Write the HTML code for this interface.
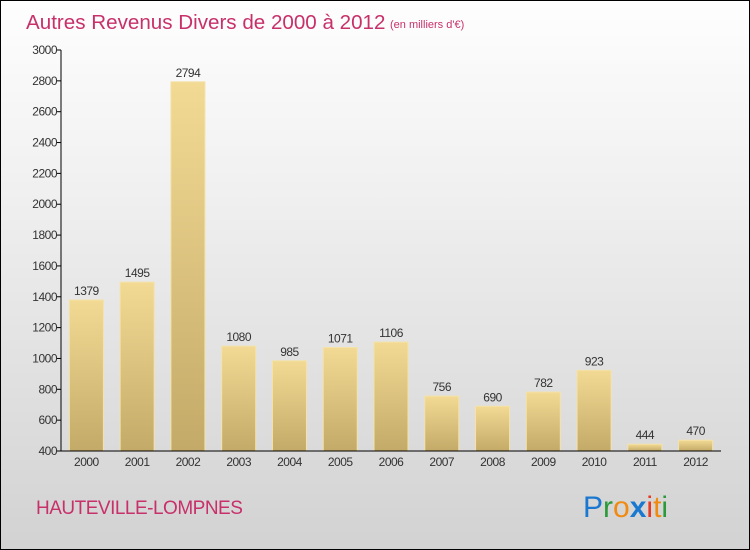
<!DOCTYPE html>
<html><head><meta charset="utf-8"><style>
body{margin:0}
#c{position:relative;width:750px;height:550px;box-sizing:border-box;border:1px solid #000;background:linear-gradient(#fefefe,#f2f2f2 30%,#d2d2d2);font-family:"Liberation Sans",sans-serif;overflow:hidden}
</style></head><body>
<div id="c">
<svg width="750" height="550" style="position:absolute;left:-1px;top:-1px" id="svg">
<defs><linearGradient id="bg" x1="0" y1="0" x2="0" y2="1"><stop offset="0" stop-color="#f2da94"/><stop offset="1" stop-color="#c4aa68"/></linearGradient></defs>
<text x="26" y="29" font-size="20.6" fill="#c8306a">Autres Revenus Divers de 2000 à 2012</text>
<text x="390" y="28" font-size="11" fill="#c8306a">(en milliers d'€)</text>
<text x="36" y="514" font-size="19" fill="#c8306a" letter-spacing="-0.5">HAUTEVILLE-LOMPNES</text>
<g id="plot"></g>
<text x="583" y="517" font-size="30"><tspan fill="#1a78d0">P</tspan><tspan fill="#2a9a3a">r</tspan><tspan fill="#f08a10">o</tspan><tspan fill="#1a78d0" font-weight="bold">x</tspan><tspan fill="#e83820">i</tspan><tspan fill="#f08a10">t</tspan><tspan fill="#2a9a3a">i</tspan></text>
</svg>
</div>
<script>
const years=["2000","2001","2002","2003","2004","2005","2006","2007","2008","2009","2010","2011","2012"];
const values=[1379,1495,2794,1080,985,1071,1106,756,690,782,923,444,470];
const ticks=[400,600,800,1000,1200,1400,1600,1800,2000,2200,2400,2600,2800,3000];
const NS="http://www.w3.org/2000/svg";
const g=document.getElementById('plot');
const L=61,R=721,T=50,B=451,ymin=400,ymax=3000;
const y=v=>B-(v-ymin)/(ymax-ymin)*(B-T);
const slot=(R-L)/years.length;
const x=i=>L+slot*(i+0.5);
function mk(t,a,txt){const e=document.createElementNS(NS,t);for(const k in a)e.setAttribute(k,a[k]);if(txt!=null)e.textContent=txt;g.appendChild(e);return e;}
ticks.forEach(t=>{
 const tk=mk('line',{x1:L-4,x2:L,y1:y(t),y2:y(t),stroke:'#000'});
 
 
 const lb=mk('text',{x:L-4,y:y(t)+4,'font-size':12,'text-anchor':'end',fill:'#333','letter-spacing':'-0.5'},t);
 
 
});
values.forEach((v,i)=>{
 const w=34,bx=x(i)-w/2;
 const r=mk('rect',{x:bx,y:y(v),width:w,height:B-y(v),fill:'url(#bg)',stroke:'#f4e2a8','stroke-width':1});
 
 
 const vl=mk('text',{x:x(i),y:y(v)-5,'font-size':12,'text-anchor':'middle',fill:'#333','letter-spacing':'-0.5'},v);
 
 
 const xl=mk('text',{x:x(i),y:B+15,'font-size':12,'text-anchor':'middle',fill:'#333','letter-spacing':'-0.5'},years[i]);
 
 
});
const ya=mk('line',{x1:L,x2:L,y1:T,y2:B,stroke:'#000'});


const xa=mk('line',{x1:L,x2:R,y1:B,y2:B,stroke:'#000'});


</script>
</body></html>
